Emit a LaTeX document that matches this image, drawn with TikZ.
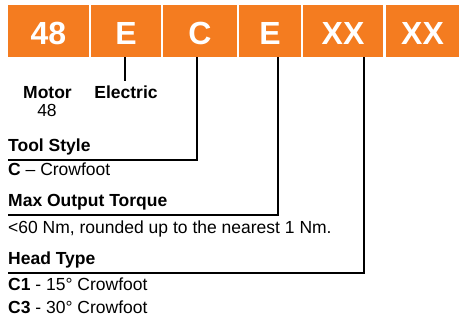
\documentclass[tikz,border=0pt]{standalone}
\usepackage{fontspec}
\setmainfont{Liberation Sans}
\usepackage{xcolor}
\usepackage{tikz}
\definecolor{codeorange}{RGB}{244,124,32}

\begin{document}
\begin{tikzpicture}[
    x=1pt, y=-1pt,
    code/.style={rectangle, fill=codeorange, text=white, inner sep=0pt,
                 minimum height=52pt, text height=27.5pt, text depth=0pt,
                 font=\fontsize{32}{32}\selectfont\bfseries},
    head/.style={anchor=base west, inner sep=0pt, text depth=8pt,
                 font=\fontsize{17.5}{20}\selectfont\bfseries},
    desc/.style={anchor=base west, inner sep=0pt,
                 font=\fontsize{17.5}{20}\selectfont},
    lbl/.style={anchor=base, inner sep=0pt,
                font=\fontsize{17.5}{20}\selectfont\bfseries},
    lead/.style={draw, line width=2.2pt}
]
\useasboundingbox (0,0) rectangle (459,320);

\node[code, minimum width=81pt] (motor)  at (48.5,31)  {48};
\node[code, minimum width=70pt] (power)  at (126,31)   {E};
\node[code, minimum width=74pt] (style)  at (200,31)   {C};
\node[code, minimum width=62pt] (torque) at (270,31)   {E};
\node[code, minimum width=80pt] (head)   at (343,31)   {XX};
\node[code, minimum width=73pt] (extra)  at (422.5,31) {XX};

\node[lbl] (motorlbl) at (47.5,99)  {Motor};
\node[lbl, font=\fontsize{17.5}{20}\selectfont] (motornum) at (47,116.7) {48};
\node[lbl] (powerlbl) at (126,99)   {Electric};

\node[head] (stylehd)  at (8,151.7) {Tool Style};
\node[desc] (styletx)  at (8,175.7) {\textbf{C} -- Crowfoot};
\node[head] (torquehd) at (8,206.7) {Max Output Torque};
\node[desc] (torquetx) at (8,233.3) {<60 Nm, rounded up to the nearest 1 Nm.};
\node[head] (headhd)   at (8,265)   {Head Type};
\node[desc] (headtxa)  at (8,290.7) {\textbf{C1} - 15° Crowfoot};
\node[desc] (headtxb)  at (8,314)   {\textbf{C3} - 30° Crowfoot};

% leaders from the code boxes down to their descriptions
\draw[lead, shorten >=5pt] ([xshift=-1pt]power.south) -- ([xshift=-1pt]powerlbl.north);
\draw[lead] ([xshift=-3pt]style.south)  |- (stylehd.south west);
\draw[lead] ([xshift=8pt]torque.south)  |- (torquehd.south west);
\draw[lead] ([xshift=21pt]head.south)   |- (headhd.south west);

\end{tikzpicture}
\end{document}
